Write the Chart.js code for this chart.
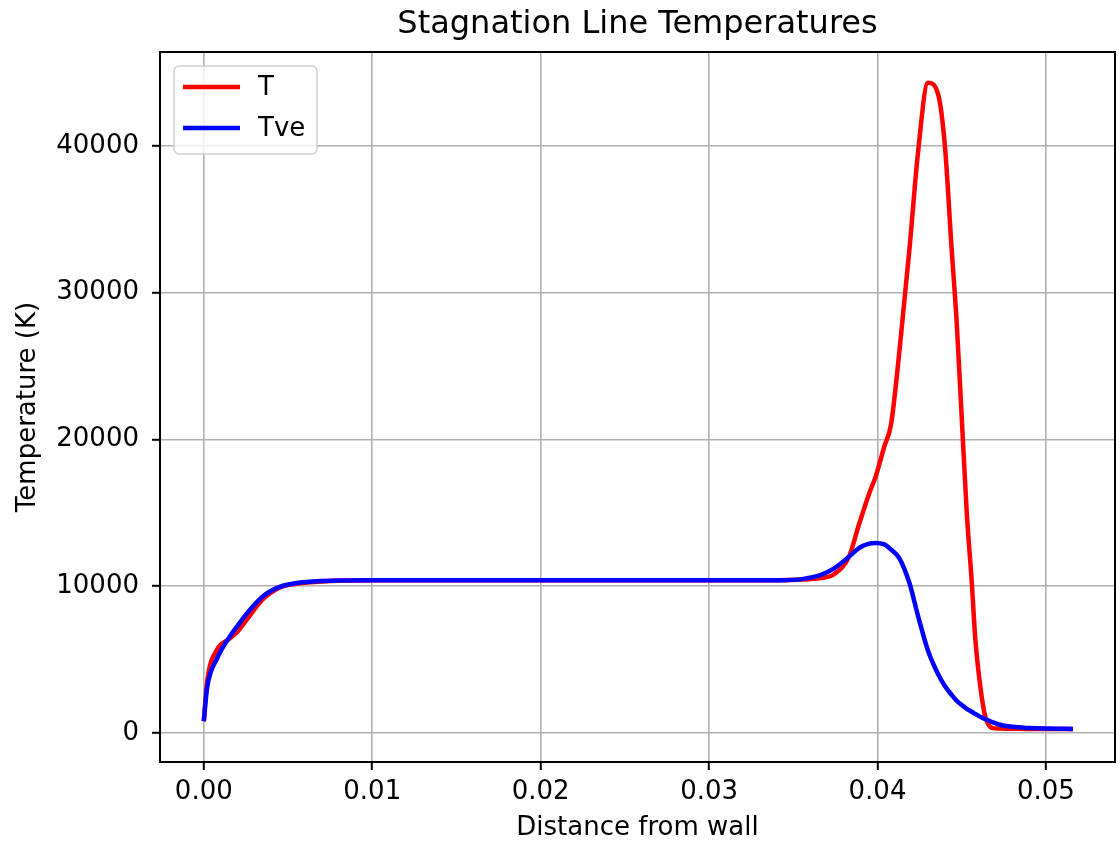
<!DOCTYPE html>
<html>
<head>
<meta charset="utf-8">
<title>Stagnation Line Temperatures</title>
<script src="https://cdn.jsdelivr.net/npm/chart.js@4.4.1/dist/chart.umd.min.js"></script>
<style>
  html, body { margin: 0; padding: 0; background: #fff; }
  #wrap { width: 1120px; height: 844px; }
</style>
</head>
<body>
<div id="wrap"><canvas id="chart_stagnationLine"></canvas></div>
<script>
// distance from wall (m), shared by both curves
var distance = [
    0, 0.0002, 0.0008, 0.0015, 0.0020, 0.0026, 0.0035, 0.0045, 0.0057, 0.0075,
    0.010, 0.015, 0.020, 0.025, 0.030, 0.034, 0.0356, 0.0366, 0.0374, 0.0383,
    0.0389, 0.0395, 0.0399, 0.0404, 0.0408, 0.0413, 0.0419, 0.0424, 0.0430, 0.0436,
    0.0440, 0.0444, 0.0447, 0.0450, 0.0453, 0.0456, 0.0458, 0.0461, 0.0464, 0.0468,
    0.0472, 0.0480, 0.0490, 0.0500, 0.0516
];
// translational temperature T (K)
var tempT = [
    800, 3500, 5700, 6400, 6900, 7800, 9100, 9900, 10200, 10350,
    10400, 10400, 10400, 10400, 10400, 10400, 10450, 10550, 10800, 12000,
    14200, 16300, 17500, 19500, 21000, 26000, 33000, 39500, 44300, 43500,
    40000, 33000, 28000, 21500, 15000, 10200, 6500, 3200, 1100, 350,
    300, 290, 280, 275, 270
];
// vibrational-electronic temperature Tve (K)
var tempTve = [
    800, 3100, 5100, 6500, 7300, 8200, 9300, 9950, 10250, 10380,
    10400, 10400, 10400, 10400, 10400, 10400, 10500, 10750, 11200, 12000,
    12600, 12900, 12950, 12850, 12500, 11900, 10200, 8000, 5600, 4000,
    3200, 2600, 2200, 1900, 1650, 1450, 1300, 1100, 950, 750,
    580, 420, 340, 300, 280
];
var yTicks = [0, 10000, 20000, 30000, 40000];
var xTicks = [0, 0.01, 0.02, 0.03, 0.04, 0.05];

function toPoints(xs, ys) {
    return xs.map(function (x, i) { return { x: x, y: ys[i] }; });
}

Chart.defaults.font.family = "'DejaVu Sans', sans-serif";
Chart.defaults.color = '#000';

var chart_stagnationLine = new Chart(document.getElementById('chart_stagnationLine'), {
    type: 'line',
    data: {
        datasets: [
            {
                label: 'T',
                data: toPoints(distance, tempT),
                borderColor: '#ff0000',
                borderWidth: 4.5,
                pointRadius: 0,
                cubicInterpolationMode: 'monotone',
                fill: false,
                order: 1
            },
            {
                label: 'Tve',
                data: toPoints(distance, tempTve),
                borderColor: '#0000ff',
                borderWidth: 4.5,
                pointRadius: 0,
                cubicInterpolationMode: 'monotone',
                fill: false,
                order: 0
            }
        ]
    },
    options: {
        animation: false,
        responsive: true,
        maintainAspectRatio: false,
        layout: { padding: { left: 0, right: 5, top: 0, bottom: 0 } },
        plugins: {
            legend: { display: false },
            tooltip: { enabled: false },
            title: {
                display: true,
                fullSize: false,
                text: 'Stagnation Line Temperatures',
                color: '#000',
                font: { size: 32, weight: 'normal' },
                padding: { top: 5, bottom: 8.6 }
            }
        },
        scales: {
            x: {
                type: 'linear',
                min: -0.0026,
                max: 0.0541,
                afterFit: function (scale) { scale.height = 82; },
                afterBuildTicks: function (scale) {
                    scale.ticks = xTicks.map(function (v) { return { value: v }; });
                },
                ticks: {
                    padding: 7,
                    font: { size: 26 },
                    color: '#000',
                    callback: function (v) { return v.toFixed(2); }
                },
                grid: {
                    color: '#b0b0b0',
                    lineWidth: 1.6,
                    tickColor: '#000',
                    tickWidth: 2,
                    tickLength: 8
                },
                border: { display: false },
                title: {
                    display: true,
                    text: 'Distance from wall',
                    font: { size: 26 },
                    color: '#000',
                    padding: { top: 2, bottom: 0 }
                }
            },
            y: {
                type: 'linear',
                min: -1975,
                max: 46390,
                afterFit: function (scale) { scale.width = 160; },
                afterBuildTicks: function (scale) {
                    scale.ticks = yTicks.map(function (v) { return { value: v }; });
                },
                ticks: {
                    padding: 13,
                    font: { size: 26 },
                    color: '#000',
                    callback: function (v) { return String(v); }
                },
                grid: {
                    color: '#b0b0b0',
                    lineWidth: 1.6,
                    tickColor: '#000',
                    tickWidth: 2,
                    tickLength: 8
                },
                border: { display: false },
                title: {
                    display: true,
                    text: 'Temperature (K)',
                    font: { size: 26 },
                    color: '#000',
                    padding: { top: 13, bottom: 0 }
                }
            }
        }
    },
    plugins: [{
        id: 'whiteBackground',
        beforeDraw: (chart) => {
            const ctx = chart.ctx;
            ctx.save();
            ctx.fillStyle = 'white';
            ctx.fillRect(0, 0, chart.width, chart.height);
            ctx.restore();
        }
    }, {
        id: 'framedLegend',
        afterDraw: (chart) => {
            const ctx = chart.ctx;
            const area = chart.chartArea;
            // spines round the plot area
            ctx.save();
            ctx.strokeStyle = '#000';
            ctx.lineWidth = 2;
            ctx.strokeRect(area.left, area.top, area.right - area.left, area.bottom - area.top);

            // matplotlib-like legend box, upper left
            const bx = area.left + 14, by = area.top + 14, bw = 143, bh = 88;
            ctx.beginPath();
            ctx.roundRect(bx, by, bw, bh, 5);
            ctx.fillStyle = 'rgba(255,255,255,0.8)';
            ctx.fill();
            ctx.strokeStyle = '#d0d0d0';
            ctx.lineWidth = 1.5;
            ctx.stroke();

            ctx.font = "26px 'DejaVu Sans', sans-serif";
            ctx.textBaseline = 'middle';
            ctx.textAlign = 'left';
            chart.data.datasets.forEach((ds, i) => {
                const ly = by + 21 + i * 41;
                ctx.beginPath();
                ctx.moveTo(bx + 9, ly);
                ctx.lineTo(bx + 66, ly);
                ctx.strokeStyle = ds.borderColor;
                ctx.lineWidth = 4.5;
                ctx.stroke();
                ctx.fillStyle = '#000';
                ctx.fillText(ds.label, bx + 84, ly + 1);
            });
            ctx.restore();
        }
    }]
});
</script>
</body>
</html>
